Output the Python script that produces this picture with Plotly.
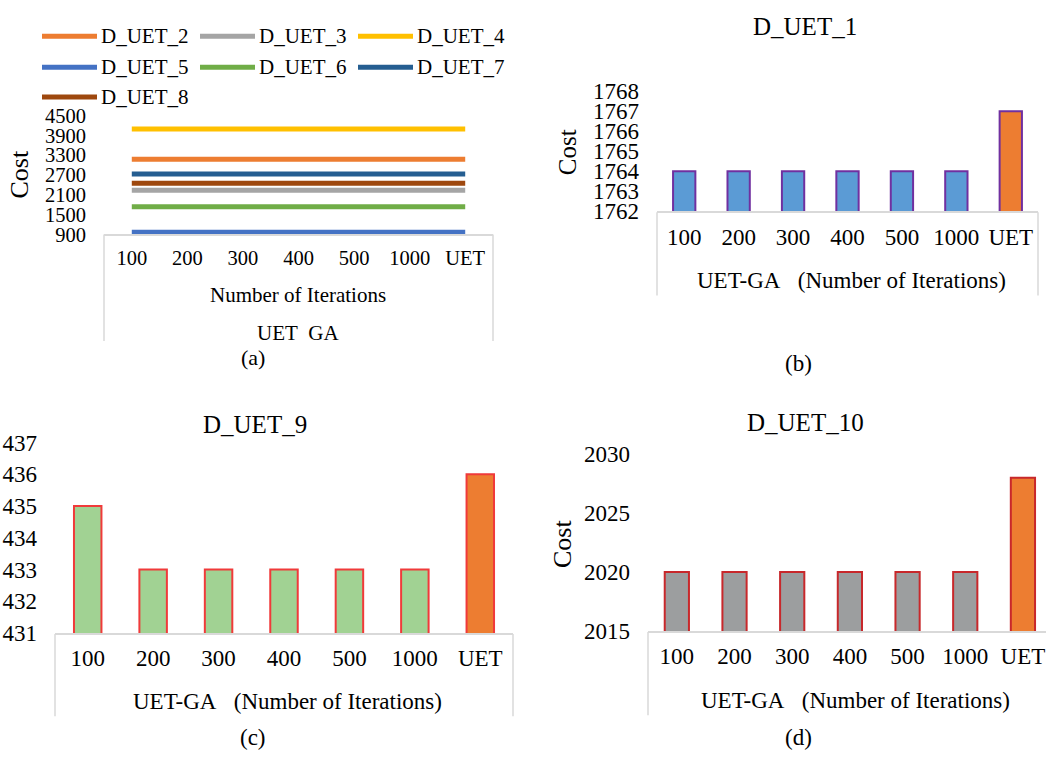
import plotly.graph_objects as go

W, H = 1046, 765

# ---------------- data ----------------
categories = ["100", "200", "300", "400", "500", "1000", "UET"]

series_names = ["D_UET_2", "D_UET_3", "D_UET_4", "D_UET_5", "D_UET_6", "D_UET_7", "D_UET_8"]
series_colors = ["#ED7D31", "#A5A5A5", "#FFC000", "#4472C4", "#70AD47", "#255E91", "#9E480E"]
d_uet_2 = [3180, 3180, 3180, 3180, 3180, 3180, 3180]
d_uet_3 = [2240, 2240, 2240, 2240, 2240, 2240, 2240]
d_uet_4 = [4090, 4090, 4090, 4090, 4090, 4090, 4090]
d_uet_5 = [968, 968, 968, 968, 968, 968, 968]
d_uet_6 = [1740, 1740, 1740, 1740, 1740, 1740, 1740]
d_uet_7 = [2730, 2730, 2730, 2730, 2730, 2730, 2730]
d_uet_8 = [2450, 2450, 2450, 2450, 2450, 2450, 2450]
series_values = [d_uet_2, d_uet_3, d_uet_4, d_uet_5, d_uet_6, d_uet_7, d_uet_8]

d_uet_1 = [1764, 1764, 1764, 1764, 1764, 1764, 1767]
d_uet_9 = [435, 433, 433, 433, 433, 433, 436]
d_uet_10 = [2020, 2020, 2020, 2020, 2020, 2020, 2028]

ticks_a = [900, 1500, 2100, 2700, 3300, 3900, 4500]
ticks_b = [1762, 1763, 1764, 1765, 1766, 1767, 1768]
ticks_c = [431, 432, 433, 434, 435, 436, 437]
ticks_d = [2015, 2020, 2025, 2030]

FONT = "Liberation Serif, Times New Roman, serif"
ORANGE = "#ED7D31"
BOXC = "#D9D9D9"


def px(x):
    return x / W


def py(y):
    return 1 - y / H


fig = go.Figure()

# ---------------- panel (a): lines ----------------
for name, col, vals in zip(series_names, series_colors, series_values):
    fig.add_trace(go.Scatter(x=categories, y=vals, mode="lines", name=name,
                             line=dict(color=col, width=5), showlegend=False,
                             xaxis="x", yaxis="y"))

# ---------------- bar panels ----------------
fig.add_trace(go.Bar(x=categories, y=d_uet_1, width=0.41, showlegend=False,
                     marker=dict(color=["#5B9BD5"] * 6 + [ORANGE],
                                 line=dict(color="#7030A0", width=2)),
                     xaxis="x2", yaxis="y2"))
fig.add_trace(go.Bar(x=categories, y=d_uet_9, width=0.42, showlegend=False,
                     marker=dict(color=["#A1D293"] * 6 + [ORANGE],
                                 line=dict(color="#F03A3A", width=2)),
                     xaxis="x3", yaxis="y3"))
fig.add_trace(go.Bar(x=categories, y=d_uet_10, width=0.42, showlegend=False,
                     marker=dict(color=["#9C9E9F"] * 6 + [ORANGE],
                                 line=dict(color="#C8282B", width=2)),
                     xaxis="x4", yaxis="y4"))

panels = {
    # name: (left, right, top, bottom, y range, ticks, tickfont, x range)
    "a": (104, 493, 107, 230, [900, 4500], ticks_a, 20.5, [-0.5, 6.5]),
    "b": (657, 1038, 82, 206, [1762, 1768], ticks_b, 23, [-0.5, 6.5]),
    "c": (55, 513, 445, 642, [431, 437], ticks_c, 23, [-0.5, 6.5]),
    "d": (648, 1046, 457, 640, [2015, 2030], ticks_d, 23, [-0.5, 6.4]),
}
axis_ids = {"a": ("xaxis", "yaxis", "y", "x"),
            "b": ("xaxis2", "yaxis2", "y2", "x2"),
            "c": ("xaxis3", "yaxis3", "y3", "x3"),
            "d": ("xaxis4", "yaxis4", "y4", "x4")}

layout_axes = {}
for k, (l, r, t, b, yr, tks, tf, xr) in panels.items():
    xa, ya, yref, xref = axis_ids[k]
    layout_axes[xa] = dict(domain=[px(l), px(r)], anchor=yref, type="category",
                           range=xr, showgrid=False, zeroline=False,
                           showline=True, linecolor=BOXC, linewidth=1.5,
                           ticks="", tickfont=dict(family=FONT, size=tf, color="#000"),
                           ticklabelstandoff=4, fixedrange=True)
    layout_axes[ya] = dict(domain=[py(b), py(t)], anchor=xref, range=yr,
                           tickvals=tks, showgrid=False, zeroline=False,
                           showline=False, ticks="",
                           tickfont=dict(family=FONT, size=tf, color="#000"),
                           ticklabelstandoff=17, fixedrange=True)

shapes = []
# multi-level category box sides
box_sides = {"a": (104, 493, 230, 340), "b": (657, 1038, 207, 293),
             "c": (55, 513, 643, 728), "d": (648, 1060, 641, 727)}
for k, (l, r, t, b) in box_sides.items():
    for xx in (l, r):
        shapes.append(dict(type="line", xref="paper", yref="paper",
                           x0=px(xx), x1=px(xx), y0=py(t), y1=py(b),
                           line=dict(color=BOXC, width=1.5)))

# custom legend for panel (a)
leg_cols = [42, 200, 358]
leg_rows = [25, 57, 88]
annotations = []
for i, (name, col) in enumerate(zip(series_names, series_colors)):
    cx = leg_cols[i % 3]
    cy = leg_rows[i // 3]
    shapes.append(dict(type="line", xref="paper", yref="paper",
                       x0=px(cx), x1=px(cx + 55), y0=py(cy), y1=py(cy),
                       line=dict(color=col, width=5)))
    annotations.append(dict(text=name, xref="paper", yref="paper",
                            x=px(cx + 57), y=py(cy), xanchor="left", yanchor="middle",
                            showarrow=False, font=dict(family=FONT, size=21, color="#000")))


def txt(s, x, y, size, angle=0):
    annotations.append(dict(text=s, xref="paper", yref="paper", x=px(x), y=py(y),
                            xanchor="center", yanchor="middle", showarrow=False,
                            textangle=angle,
                            font=dict(family=FONT, size=size, color="#000")))


NB = "\u00a0"
# panel (a)
txt("Cost", 20, 168, 26, -90)
txt("Number of Iterations", 298, 293, 21)
txt("UET" + NB * 2 + "GA", 298, 332, 21)
txt("(a)", 253, 357, 22)
# panel (b)
txt("D_UET_1", 805, 15, 25)
txt("Cost", 567, 145, 25, -90)
txt("UET-GA" + NB * 3 + "(Number of Iterations)", 851, 278, 23)
txt("(b)", 798, 363, 23)
# panel (c)
txt("D_UET_9", 255, 426, 25)
txt("UET-GA" + NB * 3 + "(Number of Iterations)", 287, 713, 23)
txt("(c)", 253, 750, 23)
# panel (d)
txt("D_UET_10", 805, 424, 25)
txt("Cost", 562, 550, 26, -90)
txt("UET-GA" + NB * 3 + "(Number of Iterations)", 855, 712, 23)
txt("(d)", 798, 750, 23)

fig.update_layout(width=W, height=H, margin=dict(l=0, r=0, t=0, b=0),
                  paper_bgcolor="white", plot_bgcolor="white",
                  showlegend=False, shapes=shapes, annotations=annotations,
                  font=dict(family=FONT, color="#000"), **layout_axes)

fig.write_html("out.html", config={"displayModeBar": False},
               post_script="document.body.style.margin='0px';document.body.style.overflow='hidden';")
